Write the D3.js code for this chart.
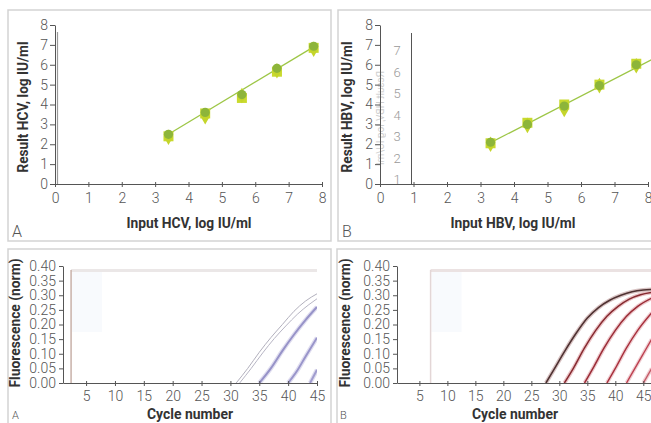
<!DOCTYPE html>
<html>
<head>
<meta charset="utf-8">
<script src="https://cdn.jsdelivr.net/npm/d3@7"></script>
<style>
  body { margin: 0; background: #fff; }
  svg { display: block; }
</style>
</head>
<body>
<div id="chart"></div>
<script>
// Chart size
var svgWidth = 651;
var svgHeight = 423;

// Standard curve data, panel A (HCV)
var hcvInput = [3.4, 4.5, 5.6, 6.65, 7.75];
var hcvCircle = [2.5, 3.6, 4.5, 5.82, 6.93];
var hcvSquare = [2.4, 3.55, 4.33, 5.65, 6.85];
var hcvDiamond = [2.35, 3.38, 4.45, 5.7, 6.78];
var hcvFit = [[3.4, 2.5], [7.75, 6.9]];

// Standard curve data, panel B (HBV)
var hbvInput = [3.3, 4.4, 5.5, 6.55, 7.65];
var hbvCircle = [2.1, 3.0, 3.92, 4.95, 6.0];
var hbvSquare = [2.05, 3.08, 4.0, 5.0, 6.05];
var hbvDiamond = [2.0, 2.95, 3.75, 4.95, 5.95];
var hbvFit = [[3.3, 2.08], [8.1, 6.25]];

// Axis ticks
var logTicks = [0, 1, 2, 3, 4, 5, 6, 7, 8];
var ghostTicks = [1, 2, 3, 4, 5, 6, 7];
var fluorTicks = [0, 0.05, 0.10, 0.15, 0.20, 0.25, 0.30, 0.35, 0.40];
var cycleTicks = [5, 10, 15, 20, 25, 30, 35, 40, 45];

// Amplification curves, panel A (cycle, fluorescence)
var ampA1 = [[31, 0], [33, 0.05], [35, 0.105], [37, 0.155], [39, 0.2], [41, 0.245], [43, 0.28], [45, 0.305]];
var ampA1b = [[31.6, 0], [33.6, 0.05], [35.6, 0.103], [37.6, 0.152], [39.6, 0.195], [41.6, 0.235], [43.6, 0.268], [45, 0.288]];
var ampA2 = [[35, 0], [37, 0.05], [39, 0.11], [41, 0.165], [43, 0.215], [45, 0.26]];
var ampA3 = [[40, 0], [41.5, 0.04], [43, 0.09], [45, 0.155]];
var ampA4 = [[43.8, 0], [45, 0.045]];

// Amplification curves, panel B
var ampB1 = [[27.6, 0], [29, 0.045], [31, 0.11], [33, 0.17], [35, 0.222], [37, 0.258], [39, 0.283], [41, 0.3], [43, 0.312], [45, 0.318], [46.5, 0.32]];
var ampB2 = [[30.9, 0], [32.5, 0.05], [34.5, 0.12], [36.5, 0.18], [38.5, 0.228], [40.5, 0.262], [42.5, 0.287], [44.5, 0.302], [46.5, 0.31]];
var ampB3 = [[34.5, 0], [36, 0.05], [38, 0.12], [40, 0.18], [42, 0.228], [44, 0.262], [46.5, 0.29]];
var ampB4 = [[38.5, 0], [40, 0.05], [42, 0.12], [44, 0.18], [46.5, 0.24]];
var ampB5 = [[42, 0], [43.5, 0.05], [45, 0.1], [46.5, 0.15]];
var ampB6 = [[45, 0], [46.5, 0.05]];

var svg = d3.select("#chart")
  .append("svg")
  .attr("width", svgWidth)
  .attr("height", svgHeight);

var tickFont = "Roboto, 'Liberation Sans', sans-serif";
var titleFont = "Roboto, 'Liberation Sans', sans-serif";

// Panel frames
function frame(x, y, w, h) {
  svg.append("rect")
    .attr("x", x).attr("y", y).attr("width", w).attr("height", h)
    .attr("fill", "none").attr("stroke", "#d3d3d3").attr("stroke-width", 1.5);
}
frame(8, 10, 323, 231);
frame(338, 10, 330, 231);
frame(8, 249, 323, 190);
frame(337, 249, 330, 190);

// Shared axis styling
function styleAxis(g) {
  g.select(".domain").attr("stroke", "#555").attr("stroke-width", 1);
  g.selectAll(".tick line").attr("stroke", "#555");
  g.selectAll(".tick text")
    .attr("fill", "#555")
    .style("font-family", tickFont)
    .style("font-weight", 300)
    .style("font-size", "14px");
}

function panelLetter(x, y, s, size) {
  svg.append("text").attr("x", x).attr("y", y).text(s)
    .attr("fill", "#555").style("font-family", tickFont).style("font-weight", 300)
    .style("font-size", (size || 16) + "px");
}

// Bold condensed axis titles, squeezed to the width they take in the figure
function axisTitle(x, y, s, len, rotate, size) {
  var t = svg.append("text").text(s)
    .attr("text-anchor", "middle")
    .attr("fill", "#333")
    .attr("textLength", len)
    .attr("lengthAdjust", "spacingAndGlyphs")
    .style("font-family", titleFont)
    .style("font-weight", "bold")
    .style("font-size", (size || 15.5) + "px");
  if (rotate) t.attr("transform", `translate(${x},${y}) rotate(-90)`);
  else t.attr("x", x).attr("y", y);
  return t;
}

// Scatter panel with fit line
function scatterPanel(x0, x8, input, circ, sq, dia, fit) {
  var x = d3.scaleLinear().domain([0, 8]).range([x0, x8]);
  var y = d3.scaleLinear().domain([0, 8]).range([184, 25]);

  var clipId = "clip" + Math.round(x0);
  svg.append("clipPath").attr("id", clipId)
    .append("rect").attr("x", x0).attr("y", 15).attr("width", 651 - x0).attr("height", 175);

  var gx = svg.append("g").attr("transform", `translate(0,${y(0)})`)
    .call(d3.axisBottom(x).tickValues(logTicks).tickSize(3).tickPadding(6).tickSizeOuter(0));
  gx.selectAll(".tick line").attr("y1", -2);
  styleAxis(gx);

  var gy = svg.append("g").attr("transform", `translate(${x0},0)`)
    .call(d3.axisLeft(y).tickValues(logTicks).tickSize(5).tickPadding(2).tickSizeOuter(0));
  styleAxis(gy);

  var plot = svg.append("g").attr("clip-path", `url(#${clipId})`);

  plot.append("path")
    .datum(fit)
    .attr("d", d3.line().x(d => x(d[0])).y(d => y(d[1])))
    .attr("fill", "none").attr("stroke", "#9dc646").attr("stroke-width", 1.3);

  plot.selectAll(".sq").data(input).enter().append("rect")
    .attr("x", d => x(d) - 5).attr("y", (d, i) => y(sq[i]) - 5)
    .attr("width", 10).attr("height", 10)
    .attr("fill", "#c9da2e");

  plot.selectAll(".dia").data(input).enter().append("path")
    .attr("d", d3.symbol().type(d3.symbolDiamond).size(70))
    .attr("transform", (d, i) => `translate(${x(d)},${y(dia[i])})`)
    .attr("fill", "#c4d52b");

  plot.selectAll(".circ").data(input).enter().append("circle")
    .attr("cx", d => x(d)).attr("cy", (d, i) => y(circ[i]))
    .attr("r", 4.6)
    .attr("fill", "#8db53a");

  return { x: x, y: y };
}

// Panel A (top)
svg.append("line").attr("x1", 57.5).attr("x2", 57.5).attr("y1", 32).attr("y2", 184)
  .attr("stroke", "#9a9a9a").attr("stroke-width", 1.2);
scatterPanel(55, 322, hcvInput, hcvCircle, hcvSquare, hcvDiamond, hcvFit);
axisTitle(28, 107, "Result HCV, log IU/ml", 131, true);
axisTitle(189, 228, "Input HCV, log IU/ml", 125);
panelLetter(12, 237, "A");

// Panel B (top): faint leftover axis from the scan
var yGhost = d3.scaleLinear().domain([1, 7]).range([179, 50]);
svg.append("line").attr("x1", 411.5).attr("x2", 411.5).attr("y1", 33).attr("y2", 184)
  .attr("stroke", "#555").attr("stroke-width", 1);
svg.append("g").selectAll("text").data(ghostTicks).enter().append("text")
  .attr("x", 397).attr("y", d => yGhost(d) + 5)
  .attr("text-anchor", "middle")
  .attr("fill", "#999").style("font-family", tickFont).style("font-weight", 300)
  .style("font-size", "13px")
  .text(d => d);
svg.append("text").text("Result HBV, log IU/ml")
  .attr("transform", "translate(384,118) rotate(90) scale(1,-1)")
  .attr("text-anchor", "middle")
  .attr("fill", "#bbb").attr("opacity", 0.7)
  .style("font-family", tickFont).style("font-size", "10px");

scatterPanel(380, 648, hbvInput, hbvCircle, hbvSquare, hbvDiamond, hbvFit);
axisTitle(352, 107, "Result HBV, log IU/ml", 131, true);
axisTitle(513, 228, "Input HBV, log IU/ml", 125);
panelLetter(342, 237, "B");

// Amplification panel
function ampPanel(x0, domainMax, xMax, curves, ghost) {
  var x = d3.scaleLinear().domain([1, domainMax]).range([x0, xMax]);
  var y = d3.scaleLinear().domain([0, 0.4]).range([383, 266]);

  var clipId = "aclip" + Math.round(x0);
  svg.append("clipPath").attr("id", clipId)
    .append("rect").attr("x", x0).attr("y", 255).attr("width", xMax - x0).attr("height", 128);

  // ghost frame left by the scan
  var gh = svg.append("g");
  gh.append("rect").attr("x", x(ghost.from) + 1).attr("y", 272).attr("width", 30).attr("height", 60)
    .attr("fill", "#f8fafd");
  gh.append("line").attr("x1", x(ghost.from)).attr("x2", xMax).attr("y1", 270.5).attr("y2", 270.5)
    .attr("stroke", ghost.top).attr("stroke-width", 3);
  gh.append("line").attr("x1", x(ghost.from)).attr("x2", x(ghost.from)).attr("y1", 270).attr("y2", 383)
    .attr("stroke", ghost.side).attr("stroke-width", 1.5);

  var plot = svg.append("g").attr("clip-path", `url(#${clipId})`);
  var line = d3.line().curve(d3.curveMonotoneX).x(d => x(d[0])).y(d => y(d[1]));
  curves.forEach(c => {
    if (c.halo) {
      plot.append("path").datum(c.data).attr("d", line)
        .attr("fill", "none").attr("stroke", c.halo).attr("stroke-width", c.width + 2.5);
    }
    plot.append("path").datum(c.data).attr("d", line)
      .attr("fill", "none").attr("stroke", c.color).attr("stroke-width", c.width);
  });

  var gx = svg.append("g").attr("transform", `translate(0,${y(0)})`)
    .call(d3.axisBottom(x).tickValues(cycleTicks).tickSize(3).tickPadding(5).tickSizeOuter(0));
  gx.selectAll(".tick line").attr("y1", -2);
  styleAxis(gx);

  var gy = svg.append("g").attr("transform", `translate(${x0},0)`)
    .call(d3.axisLeft(y).tickValues(fluorTicks).tickSize(4).tickPadding(3).tickSizeOuter(0)
      .tickFormat(d3.format(".2f")));
  styleAxis(gy);
}

ampPanel(63, 45, 317, [
  { data: ampA1, color: "#b2b0bd", width: 1 },
  { data: ampA1b, color: "#b7b5c4", width: 1 },
  { data: ampA2, color: "#9793c8", width: 2, halo: "#e0def0" },
  { data: ampA3, color: "#9995ca", width: 2, halo: "#e0def0" },
  { data: ampA4, color: "#a09cce", width: 2, halo: "#e0def0" }
], { from: 2.4, top: "#ebe7e7", side: "#c8b1a9" });
axisTitle(20, 323, "Fluorescence (norm)", 129, true);
axisTitle(190, 419, "Cycle number", 86, false, 14.5);
panelLetter(12, 419, "A", 11);

ampPanel(397, 46.5, 651.7, [
  { data: ampB6, color: "#c45a66", width: 1.4, halo: "#f0d0d4" },
  { data: ampB5, color: "#bd4150", width: 1.4, halo: "#f0d0d4" },
  { data: ampB4, color: "#a8303c", width: 1.4, halo: "#efcdd1" },
  { data: ampB3, color: "#9a2c36", width: 1.5, halo: "#edc8cc" },
  { data: ampB2, color: "#862a30", width: 1.5, halo: "#ebc4c7" },
  { data: ampB1, color: "#4f3232", width: 1.6, halo: "#d9c4c4" }
], { from: 7, top: "#ebe2e2", side: "#e3d6d6" });
axisTitle(350, 323, "Fluorescence (norm)", 129, true);
axisTitle(515, 419, "Cycle number", 86, false, 14.5);
panelLetter(340, 419, "B", 11);
</script>
</body>
</html>
